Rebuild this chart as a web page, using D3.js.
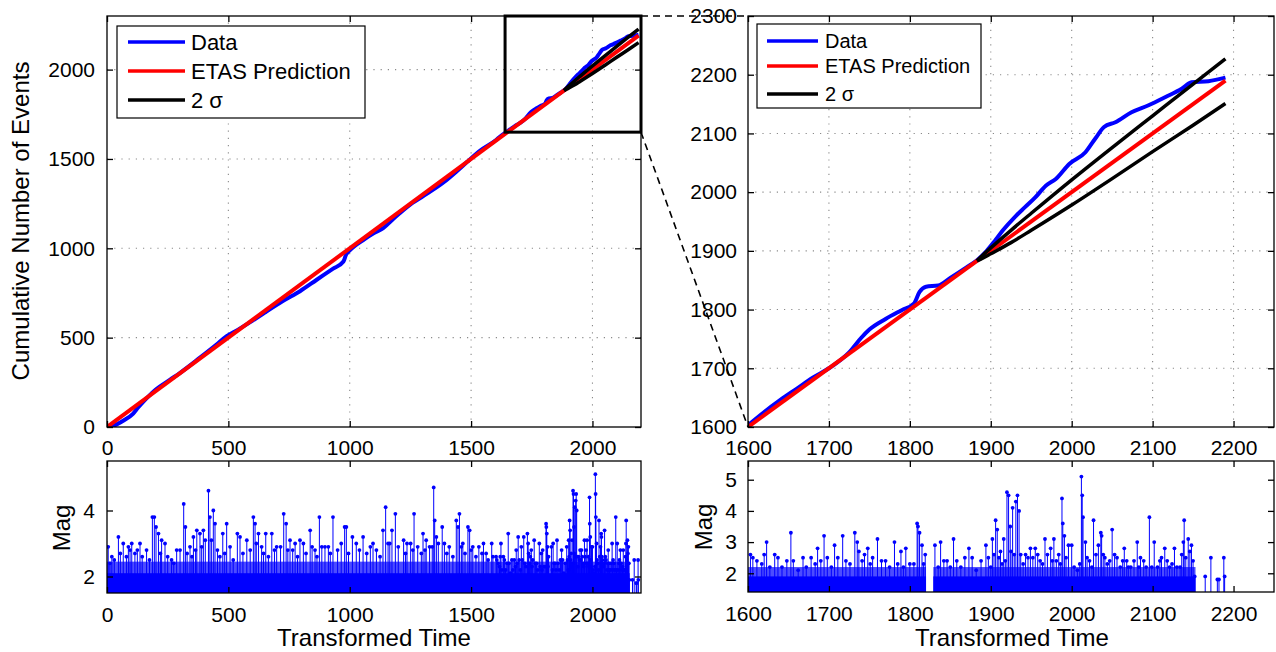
<!DOCTYPE html>
<html><head><meta charset="utf-8">
<script src="https://cdn.jsdelivr.net/npm/d3@7"></script>
<style>
html,body{margin:0;padding:0;background:#fff;}
svg{display:block;font-family:"Liberation Sans",Arial,Helvetica,sans-serif;}
</style></head>
<body><svg id="c" width="1276" height="652"></svg>
<script>
// ---------------- data ----------------
const cumTime  = [12,40,70,108,130,150,170,200,260,300,383,450,493,540,600,650,726,795,864,930,974,985,1000,1060,1100,1138,1180,1207,1260,1300,1386,1440,1484,1539,1600,1615,1640,1660,1680,1700,1725,1740,1750,1770,1790,1805,1812,1820,1835,1850,1870,1883,1895,1905,1915,1930,1942,1955,1968,1980,1997,2017,2029,2040,2054,2074,2095,2116,2136,2148,2169,2190];
const cumCount = [0,15,38,75,112,142,170,208,265,302,388,460,508,545,595,640,706,760,824,885,926,965,988,1050,1085,1113,1165,1197,1255,1290,1368,1430,1484,1548,1603,1620,1646,1665,1684,1700,1727,1752,1766,1784,1799,1810,1830,1839,1841,1854,1872,1884,1900,1917,1935,1958,1974,1991,2011,2022,2048,2068,2091,2111,2119,2136,2148,2162,2176,2187,2189,2195];

const predTime  = [0, 2190];
const predCount = [0, 2190];

const sigmaTime  = [1883,1890,1900,1925,1950,2000,2050,2100,2150,2190];
const sigmaUpper = [1883,1892.5,1905,1935,1964,2021,2076,2130,2184,2227];
const sigmaLower = [1883,1887.5,1895,1914,1935,1978,2023,2069,2114,2151];

const eventTime = [5,12,20,30,47,55,67,80,88,95,102,115,125,136,145,163,175,187,195,202,212,220,225,239,250,266,275,287,301,316,323,330,342,350,356,365,370,383,390,397,405,418,424,430,438,445,455,465,477,485,493,507,520,537,548,560,576,590,603,610,615,624,637,645,654,665,679,690,699,715,728,738,745,754,765,775,785,795,809,820,837,845,857,865,875,885,898,912,920,931,950,965,979,986,995,1011,1027,1040,1055,1070,1085,1096,1110,1125,1137,1148,1158,1165,1174,1188,1200,1222,1230,1236,1251,1260,1265,1280,1295,1302,1310,1315,1329,1340,1346,1350,1357,1365,1381,1390,1400,1410,1425,1439,1446,1452,1460,1466,1475,1487,1494,1500,1507,1520,1532,1545,1551,1562,1570,1585,1590,
1603,1606,1611,1617,1620,1623,1627,1633,1637,1642,1648,1653,1656,1662,1668,1672,1678,1683,1686,1690,1694,1698,1703,1707,1711,1717,1721,1726,1732,1735,1737,1741,1744,1748,1751,1754,1760,1765,1770,1775,1781,1785,1789,1792,1795,1800,1805,1809,1810,1812,1815,1817,1819,1831,1835,1838,1842,1846,1850,1854,1858,1863,1868,1873,1877,1882,1888,1894,1897,1900,1902,1904,1906,1908,1910,1912,1914,1916,1918,1920,1922,1924,1925,1927,1929,1931,1933,1935,1937,1940,1943,1946,1949,1952,1955,1958,1961,1964,1967,1970,1974,1976,1978,1981,1984,1986,1988,1989,1991,1993,1996,2000,2003,2007,2010,2012,2013,2014,2017,2019,2022,2025,2027,2030,2033,2036,2037,2039,2041,2044,2047,2050,2053,2056,2060,2063,2065,2068,2070,2073,2077,2081,2083,2085,2089,2092,2096,2099,2102,2106,2109,2111,2115,2118,2121,2124,2127,2130,2134,2136,2138,2139,2141,2144,2146,2148,2150,2152,2165,2172,2180,2182,2188,2189];
const eventMag = [2.9,2.4,2.6,2.5,3.2,2.7,3.0,2.6,2.9,2.8,3.0,2.7,2.8,3.0,2.6,2.8,2.5,3.8,3.8,3.5,3.3,2.7,3.1,3.0,2.6,2.5,2.4,2.8,2.8,4.2,3.5,2.7,2.9,2.6,3.2,2.8,3.4,3.3,2.9,3.4,3.1,4.6,3.8,3.1,4.0,3.6,2.8,2.6,3.3,2.7,3.6,2.9,2.5,3.3,3.2,2.7,3.1,2.8,3.8,3.6,3.0,3.3,2.9,2.7,3.3,2.6,3.3,2.8,2.9,2.9,3.9,3.6,2.8,3.1,2.8,3.0,2.6,3.1,3.0,2.7,3.4,2.9,2.8,2.6,3.8,2.9,2.9,2.9,2.7,3.8,2.8,3.0,3.5,3.5,2.7,3.2,3.0,2.8,3.2,2.7,2.9,3.0,2.8,2.6,3.4,4.1,3.0,3.0,3.4,3.9,2.9,3.1,2.7,3.0,3.0,2.8,3.9,2.9,2.7,3.3,2.8,3.1,2.9,2.9,4.7,3.7,3.2,3.0,3.5,3.0,2.7,2.9,2.6,3.7,3.5,3.9,2.9,3.0,2.7,3.5,3.4,2.8,2.9,2.6,2.9,2.7,3.0,2.7,2.5,3.0,2.6,
2.6,2.5,2.4,2.3,2.6,3.0,2.2,2.6,2.5,2.2,2.4,3.3,2.4,2.1,2.5,2.2,2.5,2.3,2.8,2.4,3.2,2.5,2.2,2.9,2.5,3.2,2.4,2.3,3.3,3.0,2.7,2.4,2.6,2.8,2.3,2.5,3.1,2.4,2.4,2.2,3.0,2.3,2.7,2.2,2.8,2.3,2.3,3.6,3.5,3.3,2.9,2.3,2.6,2.9,2.2,3.0,2.4,2.4,2.2,3.1,2.4,2.2,2.5,2.8,2.5,2.1,2.4,2.9,2.5,2.2,3.1,2.6,3.7,3.4,2.5,2.7,2.3,3.1,2.4,4.6,4.5,3.5,2.7,4.1,2.6,4.3,4.5,4.0,2.6,2.3,2.6,2.5,2.8,2.5,2.8,2.6,2.4,2.3,3.1,2.6,2.8,2.4,3.1,2.4,2.6,2.3,4.4,3.6,3.2,2.5,2.9,2.9,2.2,2.1,2.3,5.1,4.5,3.8,3.0,2.5,2.4,2.2,3.7,2.6,2.9,3.3,3.2,2.6,2.5,2.3,2.4,3.4,2.6,2.5,2.2,2.4,2.8,2.4,2.2,2.2,2.4,3.0,2.2,2.5,2.4,2.2,3.8,2.2,3.0,2.2,2.4,2.5,2.8,2.4,2.2,2.3,2.8,2.2,2.2,2.6,3.0,3.7,2.5,3.1,2.7,2.9,2.4,1.9,1.9,2.5,1.8,1.8,2.5,1.9];

// dense bands of overlapping small-magnitude stems (start, end, upper magnitude)
const leftDenseStart = [0, 0];
const leftDenseEnd   = [2153, 2153];
const leftDenseMag   = [2.1, 2.45];
const rightDenseStart = [1600, 1829, 1600, 1829];
const rightDenseEnd   = [1820, 2153, 1820, 2153];
const rightDenseMag   = [1.9, 1.9, 2.2, 2.2];

const zoomBoxTime  = [1640, 2200];
const zoomBoxCount = [1650, 2300];

const leftXTicks   = [0,500,1000,1500,2000];
const leftYTicks   = [0,500,1000,1500,2000];
const rightXTicks  = [1600,1700,1800,1900,2000,2100,2200];
const rightYTicks  = [1600,1700,1800,1900,2000,2100,2200,2300];
const leftMagTicks  = [2,4];
const rightMagTicks = [2,3,4,5];

const legendLabels = ["Data","ETAS Prediction","2 \u03C3"];
const legendColors = ["#0000ff","#ff0000","#000000"];

// ---------------- layout ----------------
const svg = d3.select("#c");
const BLUE = "#0000ff", RED = "#ff0000";

const xL = d3.scaleLinear().domain([0,2200]).range([107,641]);
const yL = d3.scaleLinear().domain([0,2300]).range([427,16]);
const yLm = d3.scaleLinear().domain([1.5,5.5]).range([593,461]);
const xR = d3.scaleLinear().domain([1600,2250]).range([748,1274]);
const yR = d3.scaleLinear().domain([1600,2300]).range([427,16]);
const yRm = d3.scaleLinear().domain([1.4,5.6]).range([592,461]);

const fmt = d3.format("d");
let clipId = 0;
function panel(x, y, xt, yt, opt){
  const g = svg.append("g");
  const [x0,x1] = x.range(), [y0,y1] = y.range();
  const id = "clip"+(clipId++);
  svg.append("clipPath").attr("id",id).append("rect")
    .attr("x",x0).attr("y",y1).attr("width",x1-x0).attr("height",y0-y1);
  if(opt.grid){
    const gg = g.append("g").attr("stroke","#8a8a8a").attr("stroke-width",1.1).attr("stroke-dasharray","1.2,6");
    xt.forEach(v=>{ if(v>x.domain()[0] && v<x.domain()[1]) gg.append("line").attr("x1",x(v)).attr("x2",x(v)).attr("y1",y0).attr("y2",y1); });
    yt.forEach(v=>{ if(v>y.domain()[0] && v<y.domain()[1]) gg.append("line").attr("y1",y(v)).attr("y2",y(v)).attr("x1",x0).attr("x2",x1); });
  }
  const content = g.append("g").attr("clip-path","url(#"+id+")");
  const fs = "21px";
  const ab = g.append("g").attr("transform",`translate(0,${y0})`)
    .call(d3.axisBottom(x).tickValues(xt).tickFormat(fmt).tickSize(-6).tickPadding(opt.xpad).tickSizeOuter(0));
  const at = g.append("g").attr("transform",`translate(0,${y1})`)
    .call(d3.axisTop(x).tickValues(xt).tickSize(-6).tickFormat("").tickSizeOuter(0));
  const al = g.append("g").attr("transform",`translate(${x0},0)`)
    .call(d3.axisLeft(y).tickValues(yt).tickFormat(fmt).tickSize(-6).tickPadding(opt.ypad).tickSizeOuter(0));
  const ar = g.append("g").attr("transform",`translate(${x1},0)`)
    .call(d3.axisRight(y).tickValues(yt).tickSize(-6).tickFormat("").tickSizeOuter(0));
  [ab,at,al,ar].forEach(a=>{
    a.select(".domain").remove();
    a.selectAll("line").attr("stroke","#000").attr("stroke-width",1.3);
    a.selectAll("text").attr("fill","#000").style("font-size",fs).style("font-family",'"Liberation Sans",Arial,sans-serif');
  });
  g.append("rect").attr("x",x0).attr("y",y1).attr("width",x1-x0).attr("height",y0-y1)
    .attr("fill","none").attr("stroke","#000").attr("stroke-width",1.3);
  return content;
}

const cL = panel(xL,yL,leftXTicks,leftYTicks,{grid:true,xpad:13,ypad:12});
const cR = panel(xR,yR,rightXTicks,rightYTicks,{grid:true,xpad:13,ypad:11});
const mL = panel(xL,yLm,leftXTicks,leftMagTicks,{grid:false,xpad:14,ypad:12});
const mR = panel(xR,yRm,rightXTicks,rightMagTicks,{grid:false,xpad:14,ypad:11});

function drawCum(c, x, y){
  const cum = cumTime.map((t,i)=>[t,cumCount[i]]);
  const pred = predTime.map((t,i)=>[t,predCount[i]]);
  const up = sigmaTime.map((t,i)=>[t,sigmaUpper[i]]);
  const lo = sigmaTime.map((t,i)=>[t,sigmaLower[i]]);
  const line = d3.line().x(d=>x(d[0])).y(d=>y(d[1])).curve(d3.curveMonotoneX);
  c.append("path").attr("d",line(cum)).attr("fill","none").attr("stroke",BLUE).attr("stroke-width",4).attr("stroke-linejoin","round");
  c.append("path").attr("d",line(pred)).attr("fill","none").attr("stroke",RED).attr("stroke-width",4);
  c.append("path").attr("d",line(up)).attr("fill","none").attr("stroke","#000").attr("stroke-width",3.5).attr("stroke-linejoin","round");
  c.append("path").attr("d",line(lo)).attr("fill","none").attr("stroke","#000").attr("stroke-width",3.5).attr("stroke-linejoin","round");
}
drawCum(cL,xL,yL);
drawCum(cR,xR,yR);

function drawMag(c, x, y, ds, de, dm, r){
  const base = y.range()[0];
  ds.forEach((s,i)=>{
    c.append("rect").attr("x",x(s)).attr("width",x(de[i])-x(s))
      .attr("y",y(dm[i])).attr("height",base-y(dm[i]))
      .attr("fill",BLUE).attr("opacity", i < ds.length/2 ? 1 : 0.7);
  });
  const ev = eventTime.map((t,i)=>[t,eventMag[i]]);
  c.selectAll(null).data(ev).enter().append("line")
    .attr("x1",d=>x(d[0])).attr("x2",d=>x(d[0])).attr("y1",base).attr("y2",d=>y(d[1]))
    .attr("stroke",BLUE).attr("stroke-width",1);
  c.selectAll(null).data(ev).enter().append("circle")
    .attr("cx",d=>x(d[0])).attr("cy",d=>y(d[1])).attr("r",r).attr("fill",BLUE);
}
drawMag(mL,xL,yLm,leftDenseStart,leftDenseEnd,leftDenseMag,1.9);
drawMag(mR,xR,yRm,rightDenseStart,rightDenseEnd,rightDenseMag,1.9);

// zoom box
svg.append("rect").attr("x",xL(zoomBoxTime[0])).attr("y",yL(zoomBoxCount[1]))
  .attr("width",xL(zoomBoxTime[1])-xL(zoomBoxTime[0])).attr("height",yL(zoomBoxCount[0])-yL(zoomBoxCount[1]))
  .attr("fill","none").attr("stroke","#000").attr("stroke-width",3);
svg.append("line").attr("x1",xL(zoomBoxTime[1])).attr("y1",yL(zoomBoxCount[1]))
  .attr("x2",xR(1600)).attr("y2",yR(2300)).attr("stroke","#000").attr("stroke-width",1.6).attr("stroke-dasharray","7,5");
svg.append("line").attr("x1",xL(zoomBoxTime[1])).attr("y1",yL(zoomBoxCount[0]))
  .attr("x2",xR(1600)).attr("y2",yR(1600)).attr("stroke","#000").attr("stroke-width",1.6).attr("stroke-dasharray","7,5");

function legend(bx,by,bw,bh,lx0,lx1,tx,ys,fs){
  const g = svg.append("g");
  g.append("rect").attr("x",bx).attr("y",by).attr("width",bw).attr("height",bh)
    .attr("fill","#fff").attr("stroke","#000").attr("stroke-width",1.2);
  legendLabels.forEach((l,i)=>{
    g.append("line").attr("x1",lx0).attr("x2",lx1).attr("y1",ys[i]).attr("y2",ys[i])
      .attr("stroke",legendColors[i]).attr("stroke-width",3.5);
    g.append("text").attr("x",tx).attr("y",ys[i]).attr("dy","0.35em")
      .style("font-size",fs).text(l);
  });
}
legend(117,26,248,92,128,185,191,[42,71,100],"22px");
legend(757,24,224,84,767,818,825,[41,66,94],"20px");

function label(x,y,t,rot){
  svg.append("text").attr("transform",`translate(${x},${y})${rot?" rotate(-90)":""}`)
    .attr("text-anchor","middle").style("font-size","24px").text(t);
}
label(29,221,"Cumulative Number of Events",true);
label(70,528,"Mag",true);
label(712,527,"Mag",true);
label(374,646,"Transformed Time",false);
label(1012,646,"Transformed Time",false);
</script></body></html>
